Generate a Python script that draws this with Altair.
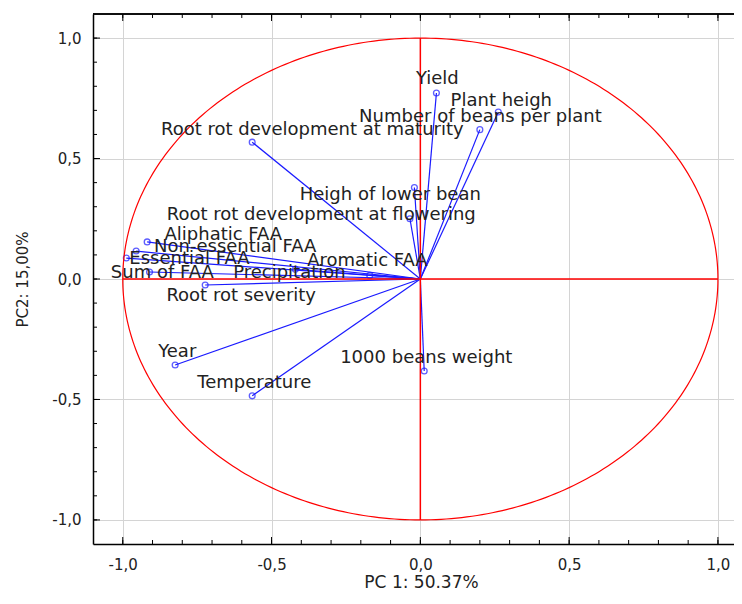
import altair as alt
import pandas as pd
import numpy as np

# ---- data ----
variables = ["Yield", "Plant heigh", "Number of beans per plant",
             "Root rot development at maturity", "Heigh of lower bean",
             "Root rot development at flowering", "Aliphatic FAA",
             "Non-essential FAA", "Essential FAA", "Aromatic FAA", "Sum of FAA",
             "Precipitation", "Root rot severity", "Year", "1000 beans weight",
             "Temperature"]
pc1 = [0.054, 0.262, 0.200, -0.565, -0.035, -0.020, -0.918, -0.955, -0.988,
       -0.420, -0.910, -0.170, -0.723, -0.824, 0.013, -0.565]
pc2 = [0.772, 0.693, 0.620, 0.568, 0.250, 0.380, 0.154, 0.116, 0.087,
       0.040, 0.029, 0.015, -0.025, -0.357, -0.382, -0.485]
label_x = [0.057, 0.272, 0.202, -0.363, -0.101, -0.333, -0.662, -0.622, -0.776,
           -0.178, -0.867, -0.440, -0.602, -0.817, 0.020, -0.558]
label_y = [0.830, 0.739, 0.672, 0.618, 0.349, 0.266, 0.183, 0.133, 0.083,
           0.075, 0.025, 0.025, -0.071, -0.303, -0.328, -0.432]

major_ticks = [-1.0, -0.5, 0.0, 0.5, 1.0]
minor_ticks = [-1.0, -0.9, -0.8, -0.7, -0.6, -0.5, -0.4, -0.3, -0.2, -0.1, 0.0,
               0.1, 0.2, 0.3, 0.4, 0.5, 0.6, 0.7, 0.8, 0.9, 1.0]

x_title = "PC 1: 50.37%"
y_title = "PC2: 15,00%"

W, H = 641, 530
FONT = "DejaVu Sans"

vec = pd.DataFrame({"var": variables, "x": pc1, "y": pc2,
                    "x0": [0.0] * len(variables), "y0": [0.0] * len(variables),
                    "lx": label_x, "ly": label_y})

theta = np.linspace(0, 2 * np.pi, 361)
circle = pd.DataFrame({"x": np.cos(theta), "y": np.sin(theta), "o": np.arange(361)})

ref = pd.DataFrame({"x": [-1.0, 0.0], "x2": [1.0, 0.0], "y": [0.0, -1.0], "y2": [0.0, 1.0]})
ticks_major = pd.DataFrame({"v": major_ticks})
ticks_minor = pd.DataFrame({"v": minor_ticks})

xs = alt.Scale(domain=[-1.1, 1.054], nice=False, zero=False)
ys = alt.Scale(domain=[-1.1, 1.1], nice=False, zero=False)
lab_expr = "replace(replace(format(datum.value, '.1f'), '.', ','), '\u2212', '-')"

x_axis = alt.Axis(values=major_ticks, labelExpr=lab_expr, grid=True, gridColor="#d4d4d4",
                  ticks=False, domainColor="black", domainWidth=1.5, labelPadding=13,
                  labelFont=FONT, labelFontSize=15, labelColor="#222222",
                  title=x_title, titleFont=FONT, titleFontSize=17, titleFontWeight="normal",
                  titleColor="#222222", titleX=328, titleY=43, titleBaseline="alphabetic")
y_axis = alt.Axis(values=major_ticks, labelExpr=lab_expr, grid=True, gridColor="#d4d4d4",
                  ticks=False, domainColor="black", domainWidth=1.5, labelPadding=12,
                  labelFont=FONT, labelFontSize=15, labelColor="#222222",
                  title=y_title, titleFont=FONT, titleFontSize=15, titleFontWeight="normal",
                  titleColor="#222222", titleX=-71, titleY=265, titleAngle=-90,
                  titleBaseline="middle", titleAlign="center")


def X(field):
    return alt.X(field, type="quantitative", scale=xs, axis=x_axis, title=x_title)


def Y(field):
    return alt.Y(field, type="quantitative", scale=ys, axis=y_axis, title=y_title)


circ = alt.Chart(circle).mark_line(color="#ff0000", strokeWidth=1.2).encode(
    x=X("x"), y=Y("y"), order="o:Q",
)

ref_lines = alt.Chart(ref).mark_rule(color="#ff0000", strokeWidth=1.5).encode(
    x=X("x"), x2="x2:Q", y=Y("y"), y2="y2:Q",
)

vectors = alt.Chart(vec).mark_rule(color="#1a1aff", strokeWidth=1.2).encode(
    x=X("x0"), x2="x:Q", y=Y("y0"), y2="y:Q",
)

points = alt.Chart(vec).mark_point(shape="circle", filled=False, color="#1a1aff",
                                   size=34, strokeWidth=1.3).encode(
    x=X("x"), y=Y("y"),
)

labels = alt.Chart(vec).mark_text(font=FONT, fontSize=18, color="#222222",
                                  align="center", baseline="middle").encode(
    x=X("lx"), y=Y("ly"), text="var:N",
)


def tick_layers(df, length):
    bottom = alt.Chart(df).mark_rule(color="black").encode(
        x=X("v"), y=alt.value(H), y2=alt.value(H - length))
    top = alt.Chart(df).mark_rule(color="black").encode(
        x=X("v"), y=alt.value(0), y2=alt.value(length))
    left = alt.Chart(df).mark_rule(color="black").encode(
        y=Y("v"), x=alt.value(0), x2=alt.value(length))
    return [bottom, top, left]


top_frame = alt.Chart(ref).mark_rule(color="black", strokeWidth=1.5).encode(
    x=alt.value(0), x2=alt.value(W), y=alt.value(0))

chart = alt.layer(
    vectors, points, circ, ref_lines, labels,
    *tick_layers(ticks_minor, 4), *tick_layers(ticks_major, 7), top_frame,
).properties(
    width=W, height=H,
    autosize=alt.AutoSizeParams(type="none"),
    padding={"left": 85, "top": 6, "right": 0, "bottom": 48},
).configure_view(stroke=None)

chart.save("out.html", embed_options={"renderer": "svg", "actions": False})
